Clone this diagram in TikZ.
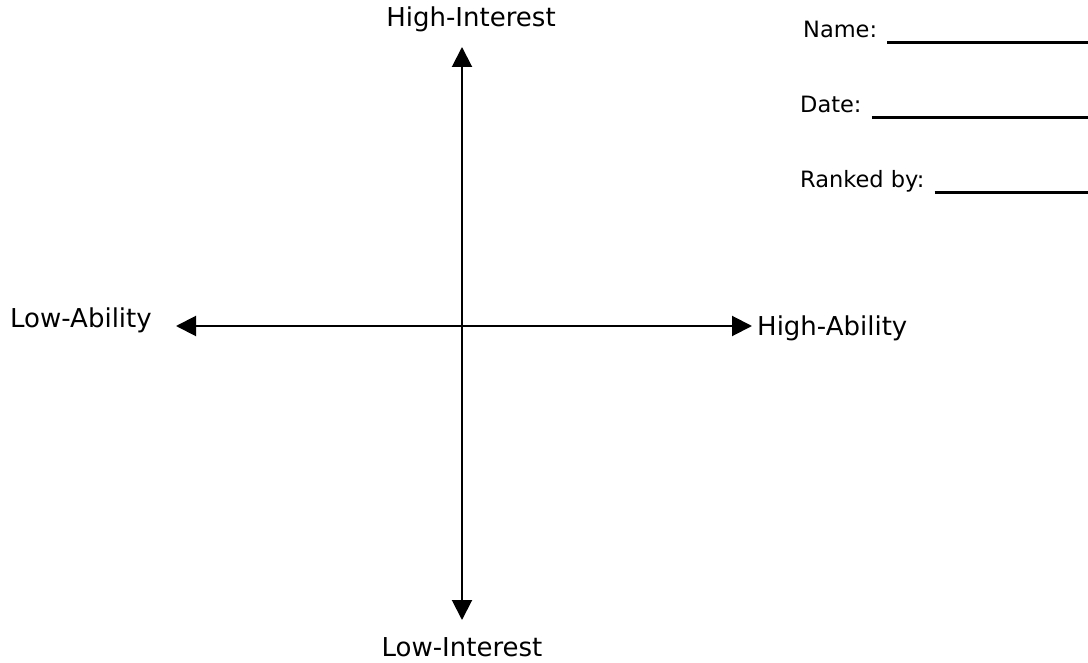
\documentclass[tikz,border=0pt]{standalone}
\usepackage{fontspec}
\setmainfont{DejaVu Sans}
\usetikzlibrary{arrows.meta}

\begin{document}
\begin{tikzpicture}
  [x=1pt,y=-1pt,every node/.style={inner sep=0pt, font=\fontsize{26}{30}\selectfont},
   formtext/.style={anchor=base west, font=\fontsize{22.5}{27}\selectfont},
   axis/.style={line width=2pt, {Triangle[length=20pt,width=20pt]}-{Triangle[length=20pt,width=20pt]}},
   blank/.style={line width=3pt}]
  \useasboundingbox (0,0) rectangle (1088,663);

  % axes
  \coordinate (top) at (462,47);
  \coordinate (bottom) at (462,620);
  \coordinate (left) at (176,326);
  \coordinate (right) at (752,326);
  \draw[axis] (bottom) -- (top);
  \draw[axis] (left) -- (right);

  \node (hiint) [anchor=base] at (471,27) {High-Interest};
  \node (loint) [anchor=base] at (462,656) {Low-Interest};
  \node (loab) [anchor=base west] at (10,328) {Low-Ability};
  \node (hiab) [anchor=base west] at (757,335) {High-Ability};

  % form
  \node (name) [formtext] at (803,38) {Name:};
  \node (date) [formtext] at (800,113) {Date:};
  \node (rank) [formtext] at (800,188) {Ranked by:};
  \coordinate (nameend) at (1088,43);
  \coordinate (dateend) at (1088,118);
  \coordinate (rankend) at (1088,193);

  \foreach \lab / \stop in {name/nameend, date/dateend, rank/rankend}
    \draw[blank] (\lab.base east) ++(10,5) -- (\stop);

\end{tikzpicture}
\end{document}
